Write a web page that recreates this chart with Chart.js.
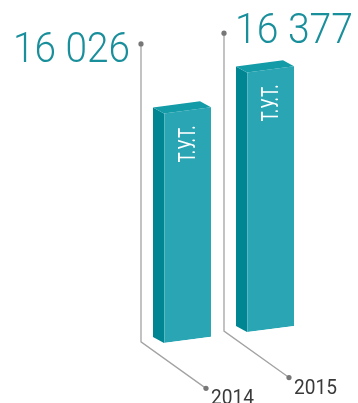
<!DOCTYPE html>
<html lang="ru">
<head>
<meta charset="utf-8">
<title>Потребление ТЭР, т.у.т.</title>
<script src="https://cdn.jsdelivr.net/npm/chart.js@4.4.1/dist/chart.umd.min.js"></script>
<style>
  html, body { margin: 0; padding: 0; background: #ffffff; }
  #chart { display: block; }
</style>
</head>
<body>
<canvas id="chart" width="358" height="403"></canvas>
<script>
// Years, consumption (tonnes of fuel equivalent) and the printed value labels
const years = ['2014', '2015'];
const consumption = [16026, 16377];
const valueLabels = ['16 026', '16 377'];
const unitLabel = 'Т.У.Т.';

// Value axis range (hidden); bars stand on the axis minimum
const AXIS_MIN = 13360;
const AXIS_MAX = 17360;

// Oblique projection: screen y = y + SKEW * x, depth goes up-left
const SKEW = -0.13;
const DEPTH = { x: -11, y: -6 };
const COLORS = {
  front: '#2aa5b3',
  side: '#008592',
  top: '#139ba7',
  value: '#1a8f9c',
  year: '#3a3a3a',
  leader: '#a3a3a3',
  dot: '#777777'
};

const toScreen = (x, y) => ({ x: x, y: y + SKEW * x });

const obliqueBars = {
  id: 'obliqueBars',
  beforeDatasetsDraw(chart) {
    const ctx = chart.ctx;
    ctx.save();
    ctx.transform(1, SKEW, 0, 1, 0, 0);
  },
  afterDatasetsDraw(chart) {
    const ctx = chart.ctx;
    ctx.restore();
    const yScale = chart.scales.y;
    const meta = chart.getDatasetMeta(0);
    meta.data.forEach((bar, i) => {
      const p = bar.getProps(['x', 'y', 'width'], true);
      const base = yScale.getPixelForValue(AXIS_MIN);
      const l = p.x - p.width / 2, r = p.x + p.width / 2;
      const flt = toScreen(l, p.y), frt = toScreen(r, p.y);
      const flb = toScreen(l, base);
      const back = pt => ({ x: pt.x + DEPTH.x, y: pt.y + DEPTH.y });

      // left side face
      ctx.fillStyle = COLORS.side;
      ctx.beginPath();
      ctx.moveTo(flt.x, flt.y);
      ctx.lineTo(back(flt).x, back(flt).y);
      ctx.lineTo(back(flb).x, back(flb).y);
      ctx.lineTo(flb.x, flb.y);
      ctx.closePath();
      ctx.fill();

      // top face
      ctx.fillStyle = COLORS.top;
      ctx.beginPath();
      ctx.moveTo(flt.x, flt.y);
      ctx.lineTo(back(flt).x, back(flt).y);
      ctx.lineTo(back(frt).x, back(frt).y);
      ctx.lineTo(frt.x, frt.y);
      ctx.closePath();
      ctx.fill();

      // thin highlight on the front edge
      ctx.strokeStyle = 'rgba(255,255,255,0.22)';
      ctx.lineWidth = 1;
      ctx.beginPath();
      ctx.moveTo(flt.x + 0.5, flt.y);
      ctx.lineTo(flb.x + 0.5, flb.y);
      ctx.stroke();

      // unit caption inside the bar, rotated
      const topAtCenter = toScreen(p.x, p.y);
      ctx.save();
      ctx.translate(p.x + 1.5, topAtCenter.y + 15);
      ctx.rotate(-Math.PI / 2);
      ctx.fillStyle = '#ffffff';
      ctx.font = '400 23px Roboto, "Liberation Sans Narrow", sans-serif';
      ctx.textAlign = 'right';
      ctx.textBaseline = 'middle';
      ctx.fillText(unitLabel, 0, 0, 37);
      ctx.restore();

      // leader line: value label at the top, year at the bottom
      const lx = p.x - 46.5;
      const dotTop = toScreen(lx, 62.3);
      const foot = toScreen(lx, base - 4);
      const dotYear = { x: foot.x + 65, y: foot.y + 46.5 };

      ctx.strokeStyle = COLORS.leader;
      ctx.lineWidth = 1.3;
      ctx.beginPath();
      ctx.moveTo(dotTop.x, dotTop.y);
      ctx.lineTo(foot.x, foot.y);
      ctx.lineTo(dotYear.x, dotYear.y);
      ctx.stroke();

      ctx.fillStyle = COLORS.dot;
      [dotTop, dotYear].forEach(d => {
        ctx.beginPath();
        ctx.arc(d.x, d.y, 2.6, 0, Math.PI * 2);
        ctx.fill();
      });

      // value label
      ctx.fillStyle = COLORS.value;
      ctx.font = '300 43px Roboto, "Liberation Sans Narrow", sans-serif';
      ctx.textBaseline = 'alphabetic';
      if (i === 0) {
        ctx.textAlign = 'right';
        ctx.fillText(valueLabels[i], dotTop.x - 11, dotTop.y + 18, 117);
      } else {
        ctx.textAlign = 'left';
        ctx.fillText(valueLabels[i], dotTop.x + 11, dotTop.y + 10, 118);
      }

      // year label
      ctx.fillStyle = COLORS.year;
      ctx.font = '400 20px Roboto, "Liberation Sans Narrow", sans-serif';
      ctx.textAlign = 'left';
      ctx.fillText(chart.data.labels[i], dotYear.x + 5, dotYear.y + 16, 43);
    });
  }
};

new Chart(document.getElementById('chart'), {
  type: 'bar',
  data: {
    labels: years,
    datasets: [{
      data: consumption,
      base: AXIS_MIN,
      backgroundColor: COLORS.front,
      borderWidth: 0,
      barPercentage: 0.566,
      categoryPercentage: 1
    }]
  },
  options: {
    responsive: false,
    animation: false,
    devicePixelRatio: 1,
    layout: { padding: { left: 146, right: 46, top: 20, bottom: 38.8 } },
    scales: {
      x: { display: false },
      y: { display: false, min: AXIS_MIN, max: AXIS_MAX }
    },
    plugins: {
      legend: { display: false },
      tooltip: { enabled: false }
    }
  },
  plugins: [obliqueBars]
});
</script>
</body>
</html>
